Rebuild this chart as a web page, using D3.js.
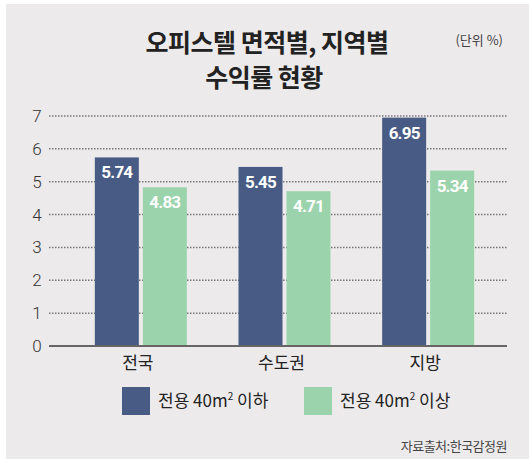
<!DOCTYPE html>
<html>
<head>
<meta charset="utf-8">
<script src="https://cdn.jsdelivr.net/npm/d3@7"></script>
<style>
  body { margin: 0; background: #fff; }
</style>
</head>
<body>
<script>
const regions = ["전국", "수도권", "지방"];
const seriesNames = ["전용 40m² 이하", "전용 40m² 이상"];
const smallUnits = [5.74, 5.45, 6.95];
const largeUnits = [4.83, 4.71, 5.34];
const yTicks = [0, 1, 2, 3, 4, 5, 6, 7];

const colors = ["#485b85", "#9bd3ac"];
const font = "'Noto Sans CJK KR', 'Noto Sans', sans-serif";

const svg = d3.select("body").append("svg")
    .attr("width", 529)
    .attr("height", 459);

svg.append("rect")
    .attr("x", 6).attr("y", 4)
    .attr("width", 523).attr("height", 455)
    .attr("fill", "#edeaeb");

// title
svg.append("text")
    .attr("x", 267).attr("y", 52)
    .attr("text-anchor", "middle")
    .attr("font-family", font)
    .attr("font-weight", "bold")
    .attr("font-size", "25px")
    .attr("letter-spacing", "-0.5px")
    .attr("fill", "#222")
    .text("오피스텔 면적별, 지역별");
svg.append("text")
    .attr("x", 264).attr("y", 87)
    .attr("text-anchor", "middle")
    .attr("font-family", font)
    .attr("font-weight", "bold")
    .attr("font-size", "25px")
    .attr("letter-spacing", "-0.5px")
    .attr("fill", "#222")
    .text("수익률 현황");
svg.append("text")
    .attr("x", 503).attr("y", 45)
    .attr("text-anchor", "end")
    .attr("font-family", font)
    .attr("font-size", "13px")
    .attr("fill", "#444")
    .text("(단위 %)");

const yScale = d3.scaleLinear().domain([0, 7]).range([346, 116]);
const xScale = d3.scaleBand().domain(regions).range([69, 500]);

// grid lines
svg.selectAll(".grid")
    .data(yTicks.filter(d => d > 0))
    .enter().append("line")
    .attr("x1", 49).attr("x2", 507)
    .attr("y1", d => yScale(d)).attr("y2", d => yScale(d))
    .attr("stroke", "#777")
    .attr("stroke-width", 1.5)
    .attr("stroke-dasharray", "1.5,1.5");

svg.selectAll(".ytick")
    .data(yTicks)
    .enter().append("text")
    .attr("x", 37)
    .attr("y", d => yScale(d) + 6)
    .attr("text-anchor", "middle")
    .attr("font-family", "'Roboto', sans-serif")
    .attr("font-weight", 300)
    .attr("font-size", "17px")
    .attr("fill", "#333")
    .text(d => d);

const barW = 44, gap = 4;
const series = [smallUnits, largeUnits];

series.forEach((vals, si) => {
    const g = svg.append("g");
    const xPos = (d, i) => xScale(regions[i]) + xScale.bandwidth() / 2 + (si === 0 ? -gap / 2 - barW : gap / 2);
    g.selectAll("rect")
        .data(vals)
        .enter().append("rect")
        .attr("x", xPos)
        .attr("y", d => yScale(d))
        .attr("width", barW)
        .attr("height", d => yScale(0) - yScale(d))
        .attr("fill", colors[si]);
    g.selectAll("text")
        .data(vals)
        .enter().append("text")
        .attr("x", (d, i) => xPos(d, i) + barW / 2)
        .attr("y", d => yScale(d) + 21)
        .attr("text-anchor", "middle")
        .attr("font-family", "'Roboto', sans-serif")
        .attr("font-weight", "bold")
        .attr("font-size", "17px")
        .attr("letter-spacing", "-0.8px")
        .attr("fill", "#fff")
        .text(d => d.toFixed(2));
});

// baseline
svg.append("line")
    .attr("x1", 49).attr("x2", 507)
    .attr("y1", yScale(0)).attr("y2", yScale(0))
    .attr("stroke", "#666")
    .attr("stroke-width", 2);

svg.selectAll(".cat")
    .data(regions)
    .enter().append("text")
    .attr("x", d => xScale(d) + xScale.bandwidth() / 2 - 3)
    .attr("y", 369)
    .attr("text-anchor", "middle")
    .attr("font-family", font)
    .attr("font-size", "17px")
    .attr("fill", "#222")
    .text(d => d);

// legend
const legendX = [122, 304];
seriesNames.forEach((name, i) => {
    svg.append("rect")
        .attr("x", legendX[i]).attr("y", 387)
        .attr("width", 28).attr("height", 28)
        .attr("fill", colors[i]);
    const t = svg.append("text")
        .attr("x", legendX[i] + 36).attr("y", 407)
        .attr("font-family", font)
        .attr("font-size", "17px")
        .attr("fill", "#222");
    const parts = name.split("²");
    t.append("tspan").text(parts[0]);
    t.append("tspan").attr("font-size", "10px").attr("dy", -7).text("2");
    t.append("tspan").attr("dy", 7).text(parts[1]);
});

svg.append("text")
    .attr("x", 507).attr("y", 451)
    .attr("text-anchor", "end")
    .attr("font-family", font)
    .attr("font-size", "13px")
    .attr("letter-spacing", "-0.5px")
    .attr("fill", "#444")
    .text("자료출처:한국감정원");
</script>
</body>
</html>
